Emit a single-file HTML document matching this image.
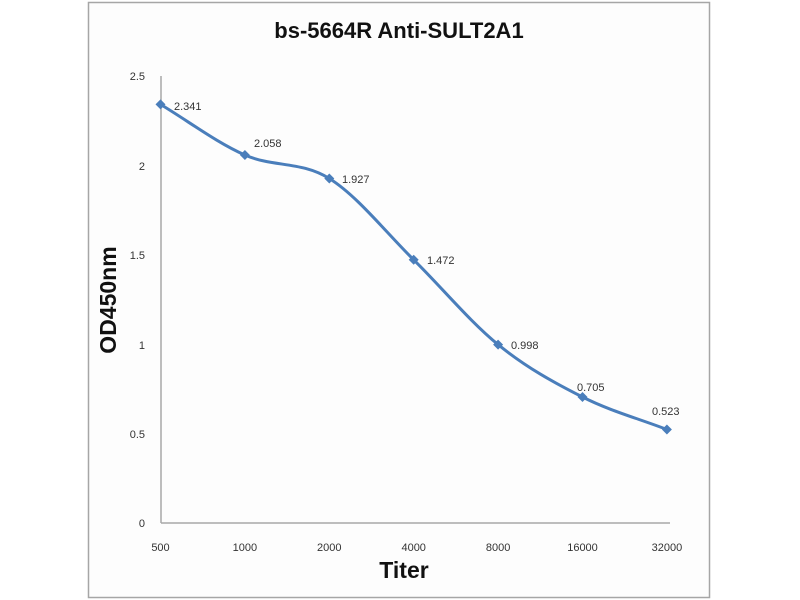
<!DOCTYPE html>
<html>
<head>
<meta charset="utf-8">
<style>
html,body{margin:0;padding:0;background:#fff;}
svg{display:block;}
text{font-family:"Liberation Sans",sans-serif;}
</style>
</head>
<body>
<svg width="800" height="600" viewBox="0 0 800 600" xmlns="http://www.w3.org/2000/svg">
<rect x="0" y="0" width="800" height="600" fill="#ffffff"/>
<rect x="88.5" y="2.5" width="621" height="595" fill="#fdfdfd" stroke="#a6a6a6" stroke-width="1.5"/>
<text x="399" y="38" font-size="22" font-weight="bold" text-anchor="middle" fill="#111">bs-5664R Anti-SULT2A1</text>
<!-- axes -->
<line x1="161" y1="76" x2="161" y2="523" stroke="#a8a8a8" stroke-width="1.5"/>
<line x1="161" y1="523" x2="670" y2="523" stroke="#a8a8a8" stroke-width="1.5"/>
<!-- y ticks -->
<g font-size="11" fill="#333" text-anchor="end">
<text x="145" y="527">0</text>
<text x="145" y="438">0.5</text>
<text x="145" y="349">1</text>
<text x="145" y="259">1.5</text>
<text x="145" y="170">2</text>
<text x="145" y="80">2.5</text>
</g>
<!-- x ticks -->
<g font-size="11" fill="#333" text-anchor="middle">
<text x="160.5" y="551">500</text>
<text x="244.9" y="551">1000</text>
<text x="329.3" y="551">2000</text>
<text x="413.7" y="551">4000</text>
<text x="498.1" y="551">8000</text>
<text x="582.5" y="551">16000</text>
<text x="666.9" y="551">32000</text>
</g>
<text x="404" y="578" font-size="23" font-weight="bold" text-anchor="middle" fill="#111">Titer</text>
<text transform="translate(116,300) rotate(-90)" font-size="23" font-weight="bold" text-anchor="middle" fill="#111">OD450nm</text>
<!-- series -->
<path d="M160.5,104.4 C188.6,121.3 216.8,142.65 244.9,155.0 C273.0,167.35 301.2,161.03 329.3,178.5 C357.4,195.97 385.6,232.12 413.7,259.8 C441.8,287.48 470.0,321.73 498.1,344.6 C526.2,367.47 554.4,382.85 582.5,397.0 C610.6,411.15 638.8,418.67 666.9,429.5" fill="none" stroke="#4a7ebb" stroke-width="3" stroke-linejoin="round"/>
<g fill="#4a7ebb">
<path d="M160.5,99.4 l5,5 l-5,5 l-5,-5z"/>
<path d="M244.9,150 l5,5 l-5,5 l-5,-5z"/>
<path d="M329.3,173.5 l5,5 l-5,5 l-5,-5z"/>
<path d="M413.7,254.8 l5,5 l-5,5 l-5,-5z"/>
<path d="M498.1,339.6 l5,5 l-5,5 l-5,-5z"/>
<path d="M582.5,392 l5,5 l-5,5 l-5,-5z"/>
<path d="M666.9,424.5 l5,5 l-5,5 l-5,-5z"/>
</g>
<g font-size="11" fill="#333">
<text x="174" y="110">2.341</text>
<text x="254" y="147">2.058</text>
<text x="342" y="183">1.927</text>
<text x="427" y="264">1.472</text>
<text x="511" y="349">0.998</text>
<text x="577" y="391">0.705</text>
<text x="652" y="415">0.523</text>
</g>
</svg>
</body>
</html>
